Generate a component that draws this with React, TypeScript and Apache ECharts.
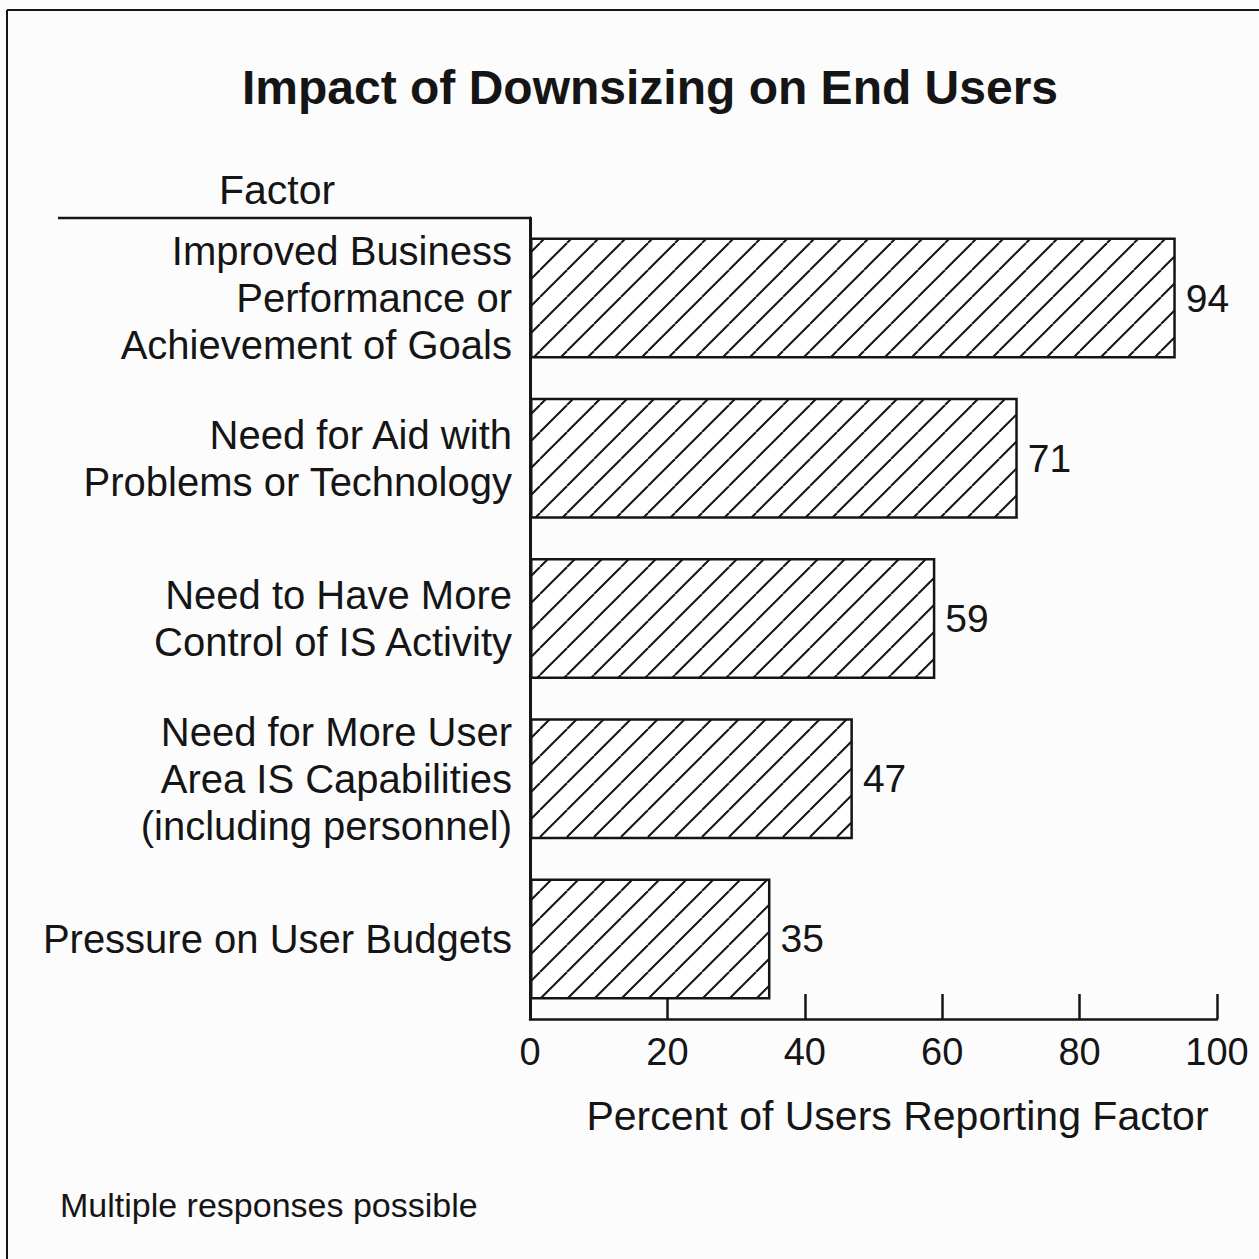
import React, { useEffect, useRef } from "react";
import * as echarts from "echarts";

const categories = [
  "Improved Business\nPerformance or\nAchievement of Goals",
  "Need for Aid with\nProblems or Technology",
  "Need to Have More\nControl of IS Activity",
  "Need for More User\nArea IS Capabilities\n(including personnel)",
  "Pressure on User Budgets",
];
const values = [94, 71, 59, 47, 35];
const xTicks = [0, 20, 40, 60, 80, 100];
const titleText = "Impact of Downsizing on End Users";
const xAxisName = "Percent of Users Reporting Factor";
const yHeader = "Factor";
const footnote = "Multiple responses possible";

const FONT = "'Liberation Sans', Arial, Helvetica, sans-serif";
const INK = "#151515";

function makeHatch(): string {
  const S = 27;
  const c = document.createElement("canvas");
  c.width = S;
  c.height = S;
  const ctx = c.getContext("2d")!;
  ctx.fillStyle = "#ffffff";
  ctx.fillRect(0, 0, S, S);
  ctx.strokeStyle = INK;
  ctx.lineWidth = 2;
  for (let k = -1; k <= 1; k++) {
    ctx.beginPath();
    ctx.moveTo(k * S, S);
    ctx.lineTo(k * S + S, 0);
    ctx.stroke();
  }
  return c.toDataURL();
}

export default function App() {
  const ref = useRef<HTMLDivElement>(null);
  useEffect(() => {
    if (!ref.current) return;
    const chart = echarts.init(ref.current, null, { renderer: "svg" });
    const hatch = makeHatch();
    chart.setOption({
      animation: false,
      backgroundColor: "#fcfcfd",
      title: {
        text: titleText,
        left: 645,
        textAlign: "center",
        top: 58,
        textStyle: { fontFamily: FONT, fontSize: 48, fontWeight: "bold", color: INK },
      },
      grid: { left: 530, top: 218, width: 687, height: 801, containLabel: false },
      xAxis: {
        type: "value",
        min: xTicks[0],
        max: xTicks[xTicks.length - 1],
        interval: 20,
        splitLine: { show: false },
        axisLine: { show: true, lineStyle: { color: INK, width: 2.5 } },
        axisTick: { show: true, inside: true, length: 25, lineStyle: { color: INK, width: 2.5 } },
        axisLabel: { margin: 14, fontFamily: FONT, fontSize: 38, color: INK },
        name: xAxisName,
        nameLocation: "middle",
        nameGap: 76,
        nameTextStyle: { fontFamily: FONT, fontSize: 41, color: INK, padding: [0, 0, 0, 48] },
      },
      yAxis: {
        type: "category",
        data: categories,
        inverse: true,
        axisLine: { show: true, lineStyle: { color: INK, width: 3 } },
        axisTick: { show: false },
        axisLabel: {
          margin: 18,
          fontFamily: FONT,
          fontSize: 40,
          lineHeight: 47,
          color: INK,
          align: "right",
        },
      },
      series: [
        {
          type: "bar",
          data: values,
          barWidth: 121,
          itemStyle: {
            color: { image: hatch, repeat: "repeat", imageWidth: 27, imageHeight: 27 } as any,
            borderColor: INK,
            borderWidth: 2.5,
          },
          label: {
            show: true,
            position: "right",
            distance: 10,
            fontFamily: FONT,
            fontSize: 39,
            color: INK,
          },
        },
      ],
      graphic: [
        { type: "line", shape: { x1: 7, y1: 10, x2: 1259, y2: 10 }, style: { stroke: INK, lineWidth: 2 } },
        { type: "line", shape: { x1: 7, y1: 10, x2: 7, y2: 1259 }, style: { stroke: INK, lineWidth: 2 } },
        { type: "line", shape: { x1: 58, y1: 218, x2: 531, y2: 218 }, style: { stroke: INK, lineWidth: 2.5 } },
        {
          type: "text",
          x: 277,
          y: 190,
          style: { text: yHeader, fontFamily: FONT, fontSize: 41, fill: INK, align: "center", verticalAlign: "middle" },
        },
        {
          type: "text",
          x: 60,
          y: 1205,
          style: { text: footnote, fontFamily: FONT, fontSize: 34, fill: INK, align: "left", verticalAlign: "middle" },
        },
      ],
    });
    return () => chart.dispose();
  }, []);
  return (
    <div
      ref={ref}
      style={{ position: "fixed", left: 0, top: 0, width: 1259, height: 1259 }}
    />
  );
}
